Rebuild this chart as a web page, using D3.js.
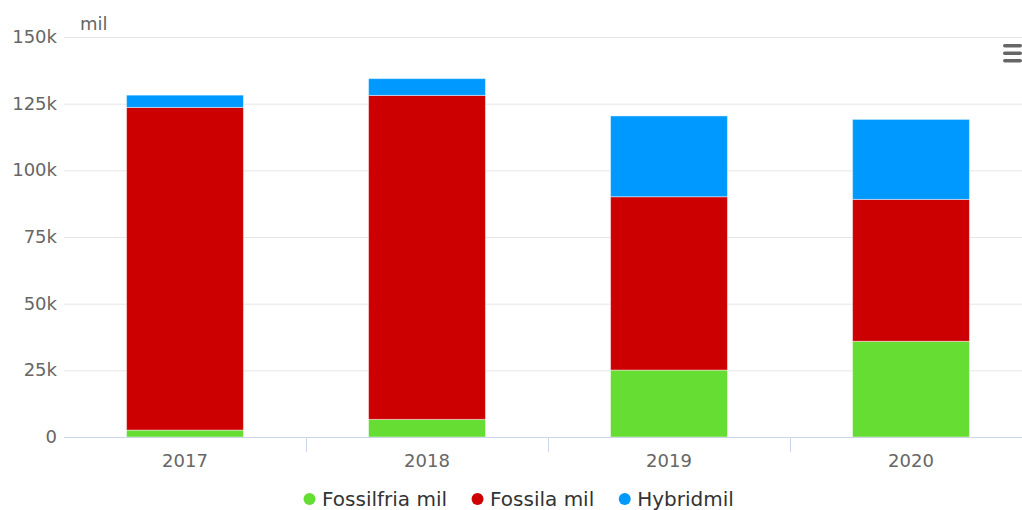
<!DOCTYPE html>
<html>
<head>
<meta charset="utf-8">
<script src="https://cdn.jsdelivr.net/npm/d3@7"></script>
<style>
  html, body { margin: 0; padding: 0; background: #fff; }
  svg { display: block; font-family: "DejaVu Sans", Verdana, sans-serif; }
  .grid line { stroke: #e6e6e6; stroke-width: 1; }
  .grid path { display: none; }
  .tick text { fill: #666; }
</style>
</head>
<body>
<svg id="chart"></svg>
<script>
const years = ["2017", "2018", "2019", "2020"];
const fossilfria = [2600, 6600, 25100, 35900];
const fossila = [121000, 121500, 65000, 53200];
const hybrid = [4600, 6300, 30300, 30000];
const yTicks = [0, 25000, 50000, 75000, 100000, 125000, 150000];

const seriesNames = ["Fossilfria mil", "Fossila mil", "Hybridmil"];
const seriesColors = ["#66dd33", "#cc0000", "#0099ff"];

const width = 1022, height = 510;
const margin = { top: 37, right: -10, bottom: 73, left: 64 };

const svg = d3.select("#chart").attr("width", width).attr("height", height);

const rows = years.map((y, i) => ({
  year: y, "Fossilfria mil": fossilfria[i], "Fossila mil": fossila[i], "Hybridmil": hybrid[i]
}));
const stacked = d3.stack().keys(seriesNames)(rows);

const xBand = d3.scaleBand()
  .domain(years)
  .range([margin.left, width - margin.right])
  .paddingInner(0.517)
  .paddingOuter(0.2585);

const xCat = d3.scaleBand()
  .domain(years)
  .range([margin.left, width - margin.right])
  .padding(0);

const y = d3.scaleLinear()
  .domain([0, 150000])
  .range([height - margin.bottom, margin.top]);

// grid lines
svg.append("g")
  .attr("class", "grid")
  .attr("transform", `translate(${margin.left},0)`)
  .call(d3.axisLeft(y).tickValues(yTicks).tickSize(-(width - margin.left - margin.right)).tickFormat(""))
  .call(g => g.selectAll(".tick").filter(d => d === 0).remove());

// y labels
svg.append("g")
  .selectAll("text")
  .data(yTicks)
  .join("text")
  .attr("x", 57)
  .attr("y", d => y(d) + 6)
  .attr("text-anchor", "end")
  .attr("fill", "#666")
  .style("font-size", "18px")
  .text(d => d === 0 ? "0" : (d / 1000) + "k");

// axis title
svg.append("text")
  .attr("x", 80)
  .attr("y", 30)
  .attr("fill", "#666")
  .style("font-size", "18px")
  .text("mil");

// bars
svg.append("g")
  .selectAll("g")
  .data(stacked)
  .join("g")
  .attr("fill", (d, i) => seriesColors[i])
  .selectAll("rect")
  .data(d => d)
  .join("rect")
  .attr("x", d => xBand(d.data.year))
  .attr("y", d => y(d[1]))
  .attr("width", xBand.bandwidth())
  .attr("height", d => y(d[0]) - y(d[1]))
  .attr("stroke", "#fff")
  .attr("stroke-opacity", 0.45)
  .attr("stroke-width", 1);

// x axis line
const baseY = y(0);
svg.append("line")
  .attr("x1", margin.left).attr("x2", width)
  .attr("y1", baseY + 0.5).attr("y2", baseY + 0.5)
  .attr("stroke", "#ccd6eb");

// category separators
svg.append("g")
  .selectAll("line")
  .data(years.slice(1))
  .join("line")
  .attr("x1", d => Math.round(xCat(d)) + 0.5)
  .attr("x2", d => Math.round(xCat(d)) + 0.5)
  .attr("y1", baseY)
  .attr("y2", baseY + 15)
  .attr("stroke", "#ccd6eb");

// x labels
svg.append("g")
  .selectAll("text")
  .data(years)
  .join("text")
  .attr("x", d => xCat(d) + xCat.bandwidth() / 2)
  .attr("y", 467)
  .attr("text-anchor", "middle")
  .attr("fill", "#666")
  .style("font-size", "18px")
  .text(d => d);

// legend
const legend = svg.append("g");
let lx = 0;
seriesNames.forEach((name, i) => {
  const item = legend.append("g").attr("transform", `translate(${lx},0)`);
  item.append("circle").attr("cx", 6).attr("cy", 0).attr("r", 6).attr("fill", seriesColors[i]);
  const t = item.append("text")
    .attr("x", 18.5)
    .attr("y", 6.5)
    .attr("fill", "#333")
    .style("font-size", "20px")
    .text(name);
  lx += 18.5 + t.node().getComputedTextLength() + 24.5;
});
const legendWidth = lx - 24.5;
legend.attr("transform", `translate(${518.7 - legendWidth / 2},499)`);

// menu icon
svg.append("g")
  .selectAll("rect")
  .data([0, 1, 2])
  .join("rect")
  .attr("x", 1003)
  .attr("y", d => 44 + d * 7.5)
  .attr("width", 19)
  .attr("height", 3.5)
  .attr("rx", 1.75)
  .attr("fill", "#666");
</script>
</body>
</html>
